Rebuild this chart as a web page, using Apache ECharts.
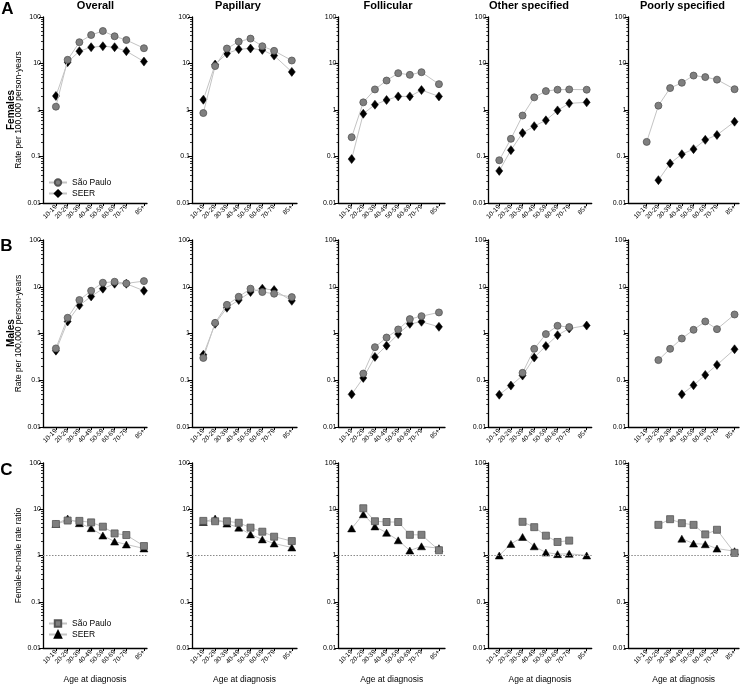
<!DOCTYPE html>
<html>
<head>
<meta charset="utf-8">
<script src="https://cdn.jsdelivr.net/npm/echarts@6/dist/echarts.min.js"></script>
<style>
html,body{margin:0;padding:0;background:#fff;}
#chart{width:741px;height:685px;}
</style>
</head>
<body>
<div id="chart"></div>
<script>
// ---------- data ----------
const ages = ['10-19','20-29','30-39','40-49','50-59','60-69','70-79','85+'];
const ageMid = [15, 25, 35, 45, 55, 65, 75, 90];
const panels = ['Overall','Papillary','Follicular','Other specified','Poorly specified'];
const yTicks = [0.01, 0.1, 1, 10, 100];
const yMinorTicks = [0.02,0.03,0.04,0.05,0.06,0.07,0.08,0.09,0.2,0.3,0.4,0.5,0.6,0.7,0.8,0.9,2,3,4,5,6,7,8,9,20,30,40,50,60,70,80,90];

// Females, rate per 100,000 person-years
const femSP_overall    = [1.18, 12, 28.7, 41, 50, 38.5, 32, 21.3];
const femSP_papillary  = [0.86, 8.8, 21, 29.6, 34.3, 23.5, 18.7, 11.6];
const femSP_follicular = [0.26, 1.46, 2.77, 4.3, 6.2, 5.7, 6.5, 3.6];
const femSP_other      = [0.083, 0.24, 0.76, 1.87, 2.55, 2.73, 2.77, 2.73];
const femSP_poorly     = [0.206, 1.24, 2.96, 3.85, 5.5, 5.1, 4.5, 2.8];
const femSEER_overall    = [2.0, 10.7, 18.4, 22.4, 23.5, 22.4, 18.4, 11];
const femSEER_papillary  = [1.66, 9.5, 16.4, 20.3, 21, 19.6, 14.8, 6.6];
const femSEER_follicular = [0.088, 0.83, 1.3, 1.64, 1.96, 1.96, 2.68, 1.96];
const femSEER_other      = [0.049, 0.137, 0.32, 0.45, 0.6, 0.98, 1.39, 1.46];
const femSEER_poorly     = [null, 0.031, 0.071, 0.112, 0.144, 0.228, 0.29, 0.56];

// Males, rate per 100,000 person-years
const maleSP_overall    = [0.48, 2.17, 5.2, 8.2, 12.2, 12.8, 11.8, 13.2];
const maleSP_papillary  = [0.30, 1.69, 4.1, 6.1, 9.1, 7.7, 7.1, 6.0];
const maleSP_follicular = [null, 0.139, 0.51, 0.82, 1.22, 2.03, 2.35, 2.82];
const maleSP_other      = [null, null, 0.144, 0.47, 0.97, 1.46, 1.37, null];
const maleSP_poorly     = [null, 0.27, 0.47, 0.78, 1.2, 1.81, 1.24, 2.55];
const maleSEER_overall    = [0.43, 1.81, 4.0, 6.2, 9.1, 11.6, 11.6, 8.2];
const maleSEER_papillary  = [0.35, 1.61, 3.55, 5.2, 7.7, 9.1, 8.5, 5.0];
const maleSEER_follicular = [0.05, 0.112, 0.316, 0.55, 0.97, 1.61, 1.78, 1.39];
const maleSEER_other      = [0.049, 0.077, 0.126, 0.306, 0.54, 0.92, 1.28, 1.48];
const maleSEER_poorly     = [null, null, null, 0.05, 0.078, 0.13, 0.213, 0.46];

// Female-to-male rate ratio
const ratioSP_overall    = [4.8, 5.7, 5.6, 5.2, 4.2, 3.0, 2.77, 1.6];
const ratioSP_papillary  = [5.6, 5.5, 5.5, 5.1, 4.0, 3.27, 2.55, 2.05];
const ratioSP_follicular = [null, 10.5, 5.5, 5.3, 5.3, 2.8, 2.8, 1.3];
const ratioSP_other      = [null, null, 5.35, 4.1, 2.68, 1.96, 2.1, null];
const ratioSP_poorly     = [null, 4.6, 6.1, 5.0, 4.6, 2.86, 3.6, 1.14];
const ratioSEER_overall    = [4.8, 6.3, 5.0, 3.9, 2.7, 2.0, 1.73, 1.42];
const ratioSEER_papillary  = [5.3, 6.3, 4.9, 4.0, 2.86, 2.23, 1.82, 1.49];
const ratioSEER_follicular = [3.85, 7.8, 4.25, 3.1, 2.13, 1.28, 1.58, 1.44];
const ratioSEER_other      = [1.0, 1.78, 2.51, 1.58, 1.16, 1.07, 1.09, 1.0];
const ratioSEER_poorly     = [null, null, null, 2.31, 1.81, 1.75, 1.41, 1.24];

// ---------- assemble ----------
const rowsSP = [
  [femSP_overall, femSP_papillary, femSP_follicular, femSP_other, femSP_poorly],
  [maleSP_overall, maleSP_papillary, maleSP_follicular, maleSP_other, maleSP_poorly],
  [ratioSP_overall, ratioSP_papillary, ratioSP_follicular, ratioSP_other, ratioSP_poorly]
];
const rowsSEER = [
  [femSEER_overall, femSEER_papillary, femSEER_follicular, femSEER_other, femSEER_poorly],
  [maleSEER_overall, maleSEER_papillary, maleSEER_follicular, maleSEER_other, maleSEER_poorly],
  [ratioSEER_overall, ratioSEER_papillary, ratioSEER_follicular, ratioSEER_other, ratioSEER_poorly]
];

const colLayout = [
  {left: 43,    width: 104,   min: 4,    max: 92.6, title: 95.5},
  {left: 192,   width: 105,   min: 5.4,  max: 94.4, title: 238},
  {left: 338.5, width: 106.5, min: 3.7,  max: 95.2, title: 388},
  {left: 488.3, width: 103.4, min: 5.6,  max: 94.3, title: 529},
  {left: 628.3, width: 110.7, min: -0.7, max: 93.8, title: 682.5}
];
const rowLayout = [
  {top: 17,  height: 186},
  {top: 240, height: 187},
  {top: 463, height: 186}
];

const FONT = '"Liberation Sans", Arial, sans-serif';
const LINE_COLOR = '#c4c4c4';
const grids = [], xAxes = [], yAxes = [], series = [];

function pairs(vals) {
  const out = [];
  vals.forEach((v, i) => { if (v !== null) out.push([ageMid[i], v]); });
  return out;
}

let g = 0;
for (let r = 0; r < 3; r++) {
  for (let c = 0; c < 5; c++) {
    const cl = colLayout[c], rl = rowLayout[r];
    grids.push({left: cl.left, top: rl.top, width: cl.width, height: rl.height, containLabel: false});
    xAxes.push({
      type: 'value', gridIndex: g, min: cl.min, max: cl.max,
      axisLine: {show: true, onZero: false, lineStyle: {color: '#000', width: 1.3}},
      axisTick: {show: true, customValues: ageMid, length: 3, lineStyle: {color: '#000', width: 1}},
      axisLabel: {
        customValues: ageMid, rotate: 45, fontSize: 6.5, color: '#000', margin: 3, fontFamily: FONT,
        formatter: v => ages[ageMid.indexOf(v)]
      },
      splitLine: {show: false},
      name: r === 2 ? 'Age at diagnosis' : '',
      nameLocation: 'middle', nameGap: 27,
      nameTextStyle: {fontSize: 8.5, color: '#000', fontFamily: FONT}
    });
    let yName = '';
    if (c === 0) yName = r === 2 ? 'Female-to-male rate ratio' : 'Rate per 100,000 person-years';
    yAxes.push({
      type: 'log', logBase: 10, gridIndex: g, min: 0.01, max: 100,
      axisLine: {show: true, onZero: false, lineStyle: {color: '#000', width: 1.3}},
      axisTick: {show: true, length: 4, lineStyle: {color: '#000', width: 1}},
      axisLabel: {fontSize: 7, color: '#000', margin: 2, fontFamily: FONT,
        formatter: v => { const m = yTicks.find(t => Math.abs(Math.log10(t) - Math.log10(v)) < 1e-6); return m === undefined ? '' : String(m); }},
      splitLine: {show: false},
      name: yName, nameLocation: 'middle', nameGap: r === 2 ? 19 : 15,
      nameTextStyle: {fontSize: 8.5, color: '#000', fontFamily: FONT}
    });
    yAxes.push({
      type: 'value', gridIndex: g, min: -2, max: 2, position: 'left',
      axisLine: {show: false, onZero: false},
      axisLabel: {show: false},
      splitLine: {show: false},
      axisTick: {show: true, customValues: yMinorTicks.map(v => Math.log10(v)), length: 2, lineStyle: {color: '#000', width: 0.8}}
    });
    const isRatio = r === 2;
    const seer = {
      type: 'line', name: isRatio ? 'SEER ratio' : 'SEER',
      xAxisIndex: g, yAxisIndex: 2 * g,
      data: pairs(rowsSEER[r][c]),
      symbol: isRatio ? 'triangle' : 'diamond',
      symbolSize: isRatio ? [8, 7] : [7, 9],
      itemStyle: {color: '#000', borderColor: '#000', borderWidth: 0.5},
      lineStyle: {color: LINE_COLOR, width: 1},
      animation: false, silent: true, z: 2
    };
    if (isRatio) {
      seer.markLine = {
        silent: true, symbol: 'none', label: {show: false},
        lineStyle: {color: '#8a8a8a', type: [1.5, 1.5], width: 1},
        data: [{yAxis: 1}]
      };
    }
    series.push(seer);
    series.push({
      type: 'line', name: isRatio ? 'São Paulo ratio' : 'São Paulo',
      xAxisIndex: g, yAxisIndex: 2 * g,
      data: pairs(rowsSP[r][c]),
      symbol: isRatio ? 'rect' : 'circle',
      symbolSize: 7,
      itemStyle: {color: '#7f7f7f', borderColor: '#555', borderWidth: 0.8},
      lineStyle: {color: LINE_COLOR, width: 1},
      animation: false, silent: true, z: 3
    });
    g++;
  }
}

const graphics = [];
function txt(text, x, y, font, rot) {
  graphics.push({
    type: 'text', x: x, y: y, rotation: rot || 0, silent: true,
    style: {text: text, font: font, fill: '#000', textAlign: 'center', align: 'center',
            textVerticalAlign: 'middle', verticalAlign: 'middle'}
  });
}
colLayout.forEach((cl, i) => txt(panels[i], cl.title, 5.5, 'bold 11px ' + FONT));
txt('A', 7.5, 9, 'bold 17px ' + FONT);
txt('B', 6.5, 246.5, 'bold 17px ' + FONT);
txt('C', 6.5, 470, 'bold 17px ' + FONT);
txt('Females', 11, 110, 'bold 10px ' + FONT, Math.PI / 2);
txt('Males', 11, 333, 'bold 10px ' + FONT, Math.PI / 2);

const legendBase = {
  orient: 'vertical', left: 48, itemWidth: 18, itemHeight: 8, itemGap: 2,
  textStyle: {fontSize: 8.5, color: '#000', fontFamily: FONT}, selectedMode: false,
  padding: 0
};

const option = {
  backgroundColor: '#fff',
  animation: false,
  grid: grids, xAxis: xAxes, yAxis: yAxes, series: series,
  legend: [
    Object.assign({}, legendBase, {top: 178, data: ['São Paulo', 'SEER']}),
    Object.assign({}, legendBase, {top: 619, data: ['São Paulo ratio', 'SEER ratio'],
      formatter: n => n.replace(' ratio', '')})
  ],
  graphic: graphics
};

const chart = echarts.init(document.getElementById('chart'), null, {renderer: 'canvas'});
chart.setOption(option);
</script>
</body>
</html>
